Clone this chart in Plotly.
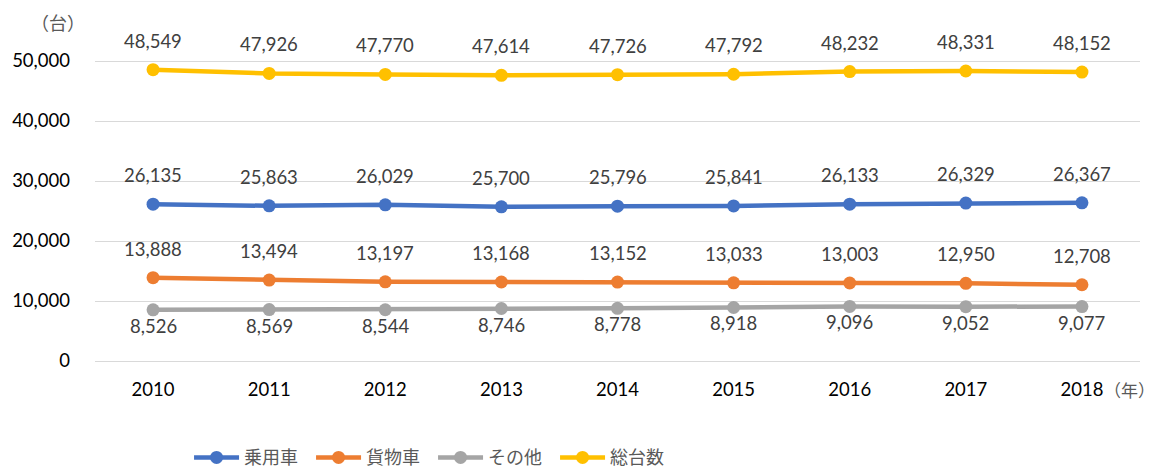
import plotly.graph_objects as go

years = ["2010", "2011", "2012", "2013", "2014", "2015", "2016", "2017", "2018"]
passenger = [26135, 25863, 26029, 25700, 25796, 25841, 26133, 26329, 26367]
cargo = [13888, 13494, 13197, 13168, 13152, 13033, 13003, 12950, 12708]
other = [8526, 8569, 8544, 8746, 8778, 8918, 9096, 9052, 9077]
total = [48549, 47926, 47770, 47614, 47726, 47792, 48232, 48331, 48152]

series = [
    ("乗用車", passenger, "#4472C4", 29),
    ("貨物車", cargo, "#ED7D31", 29),
    ("その他", other, "#A5A5A5", -16),
    ("総台数", total, "#FFC000", 29),
]

NUMFONT = "Lato, Open Sans, sans-serif"

fig = go.Figure()
for name, vals, color, shift in series:
    fig.add_trace(go.Scatter(
        x=years, y=vals, name=name, mode="lines+markers",
        line=dict(color=color, width=4.5),
        marker=dict(color=color, size=13),
    ))
    for i, v in enumerate(vals):
        fig.add_annotation(x=i, y=v, xref="x", yref="y", text=f"{v:,}", showarrow=False,
                           yshift=shift, xanchor="center", yanchor="middle",
                           font=dict(family=NUMFONT, size=18.5, color="#404040"))

fig.update_layout(
    width=1154, height=464,
    margin=dict(l=87, r=22, t=5, b=111, autoexpand=False),
    plot_bgcolor="white", paper_bgcolor="white",
    showlegend=True,
    legend=dict(orientation="h", x=0.09, xanchor="left", y=-0.278, yanchor="middle",
                font=dict(family="Noto Sans CJK JP", size=18, color="#595959"),
                itemwidth=45, tracegroupgap=0, entrywidth=62, entrywidthmode="pixels"),
    xaxis=dict(type="category", range=[-0.5, 8.5], showgrid=False, showline=False,
               ticks="", automargin=False,
               tickfont=dict(family=NUMFONT, size=18.5, color="#000000"),
               ticklabelstandoff=15),
    yaxis=dict(range=[0, 58000], tickvals=[0, 10000, 20000, 30000, 40000, 50000],
               tickformat=",", showgrid=True, gridcolor="#D9D9D9", gridwidth=1.3,
               zeroline=True, zerolinecolor="#D9D9D9", zerolinewidth=1.3,
               showline=False, ticks="", automargin=False,
               tickfont=dict(family=NUMFONT, size=18.5, color="#000000"),
               ticklabelstandoff=24),
)

fig.add_annotation(text="（台）", xref="paper", yref="paper", x=-0.0354, y=0.974,
                   xanchor="center", yanchor="middle", showarrow=False,
                   font=dict(family="Noto Sans CJK JP", size=18, color="#595959"))
fig.add_annotation(text="（年）", xref="paper", yref="paper", x=0.99, y=-0.083,
                   xanchor="center", yanchor="middle", showarrow=False,
                   font=dict(family="Noto Sans CJK JP", size=17, color="#595959"))

fig.write_html("out.html")
